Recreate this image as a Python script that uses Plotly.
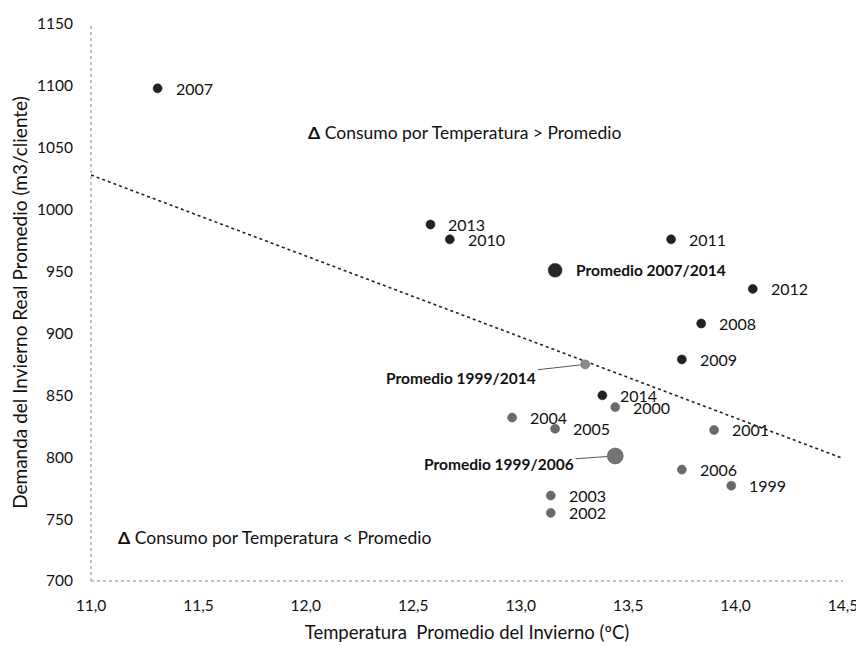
import plotly.graph_objects as go

# ---- data ----
years_9906 = ["1999", "2000", "2001", "2002", "2003", "2004", "2005", "2006"]
temp_9906 = [13.98, 13.44, 13.90, 13.14, 13.14, 12.96, 13.16, 13.75]
dem_9906 = [777, 840.5, 822, 755, 769, 832, 823, 790]

years_0714 = ["2007", "2008", "2009", "2010", "2011", "2012", "2013", "2014"]
temp_0714 = [11.31, 13.84, 13.75, 12.67, 13.70, 14.08, 12.58, 13.38]
dem_0714 = [1098, 908, 879, 976, 976, 936, 988, 850]

avg_labels = ["Promedio 1999/2006", "Promedio 2007/2014", "Promedio 1999/2014"]
avg_temp = [13.44, 13.16, 13.30]
avg_dem = [801, 951, 875]

trend_temp = [11.0, 14.5]
trend_dem = [1028, 799]

x_tickvals = [11.0, 11.5, 12.0, 12.5, 13.0, 13.5, 14.0, 14.5]
x_ticktext = ["11,0", "11,5", "12,0", "12,5", "13,0", "13,5", "14,0", "14,5"]
y_tickvals = [700, 750, 800, 850, 900, 950, 1000, 1050, 1100, 1150]
y_ticktext = ["700", "750", "800", "850", "900", "950", "1000", "1050", "1100", "1150"]

FONT = "Lato"
TXT = "#111111"

fig = go.Figure()

# trend line
fig.add_trace(go.Scatter(
    x=trend_temp, y=trend_dem, mode="lines",
    line=dict(color="#222222", width=1.6, dash="dot"),
    hoverinfo="skip", showlegend=False))

# 1999-2006 points (gray)
fig.add_trace(go.Scatter(
    x=temp_9906, y=dem_9906, mode="markers",
    marker=dict(size=9, color="#6a6a6a", opacity=1, line=dict(width=0.5, color="#555555")),
    text=years_9906, showlegend=False))

# 2007-2014 points (dark)
fig.add_trace(go.Scatter(
    x=temp_0714, y=dem_0714, mode="markers",
    marker=dict(size=9, color="#222222", opacity=1, line=dict(width=0.5, color="#111111")),
    text=years_0714, showlegend=False))

# averages
fig.add_trace(go.Scatter(
    x=avg_temp, y=avg_dem, mode="markers",
    marker=dict(size=[16, 14, 9], color=["#747474", "#262626", "#8a8a8a"], opacity=1,
                line=dict(width=0.5, color="#555555")),
    text=avg_labels, showlegend=False))

annotations = []
for yr, t, d in list(zip(years_9906, temp_9906, dem_9906)) + list(zip(years_0714, temp_0714, dem_0714)):
    annotations.append(dict(
        x=t, y=d, xref="x", yref="y", text=yr, showarrow=False,
        xanchor="left", yanchor="middle", xshift=16,
        font=dict(family=FONT, size=16, color=TXT)))

# average labels
annotations.append(dict(
    x=avg_temp[1], y=avg_dem[1], xref="x", yref="y", text="<b>" + avg_labels[1] + "</b>",
    showarrow=False, xanchor="left", yanchor="middle", xshift=19,
    font=dict(family=FONT, size=15.5, color=TXT)))
annotations.append(dict(
    x=avg_temp[2], y=avg_dem[2], xref="x", yref="y", text="<b>" + avg_labels[2] + "</b>",
    showarrow=True, arrowhead=0, arrowwidth=1, arrowcolor="#555555",
    ax=-124, ay=14, standoff=5,
    font=dict(family=FONT, size=15.5, color=TXT)))
annotations.append(dict(
    x=avg_temp[0], y=avg_dem[0], xref="x", yref="y", text="<b>" + avg_labels[0] + "</b>",
    showarrow=True, arrowhead=0, arrowwidth=1, arrowcolor="#555555",
    ax=-116, ay=8, standoff=8,
    font=dict(family=FONT, size=15.5, color=TXT)))

# region annotations
annotations.append(dict(
    x=12.74, y=1062, xref="x", yref="y",
    text="<b>Δ</b> Consumo por Temperatura &gt; Promedio", showarrow=False,
    xanchor="center", yanchor="middle",
    font=dict(family=FONT, size=17.5, color=TXT)))
annotations.append(dict(
    x=11.853, y=735, xref="x", yref="y",
    text="<b>Δ</b> Consumo por Temperatura &lt; Promedio", showarrow=False,
    xanchor="center", yanchor="middle",
    font=dict(family=FONT, size=17.5, color=TXT)))

shapes = [
    dict(type="line", xref="paper", yref="paper", x0=0, x1=0, y0=0, y1=1,
         line=dict(color="#888888", width=1, dash="dot")),
    dict(type="line", xref="paper", yref="paper", x0=0, x1=1, y0=0, y1=0,
         line=dict(color="#888888", width=1, dash="dot")),
]

# the page adds an 8px body margin, so the figure is 8px smaller than the window
fig.update_layout(
    width=856, height=638,
    margin=dict(l=83, r=21, t=16, b=65),
    paper_bgcolor="white", plot_bgcolor="white",
    font=dict(family=FONT, size=15, color=TXT),
    annotations=annotations, shapes=shapes,
    xaxis=dict(range=[11.0, 14.5], tickvals=x_tickvals, ticktext=x_ticktext,
               showgrid=False, zeroline=False, showline=False, ticks="",
               automargin=False, ticklabelstandoff=13,
               tickfont=dict(family=FONT, size=15.5, color=TXT),
               title=dict(text="Temperatura  Promedio del Invierno (ºC)",
                          font=dict(family=FONT, size=18.5, color=TXT), standoff=13)),
    yaxis=dict(range=[700, 1150], tickvals=y_tickvals, ticktext=y_ticktext,
               showgrid=False, zeroline=False, showline=False, ticks="",
               automargin=False, ticklabelstandoff=17,
               tickfont=dict(family=FONT, size=15.5, color=TXT),
               title=dict(text="Demanda del Invierno Real Promedio (m3/cliente)",
                          font=dict(family=FONT, size=19, color=TXT), standoff=6)),
)

fig.write_html("out.html")
